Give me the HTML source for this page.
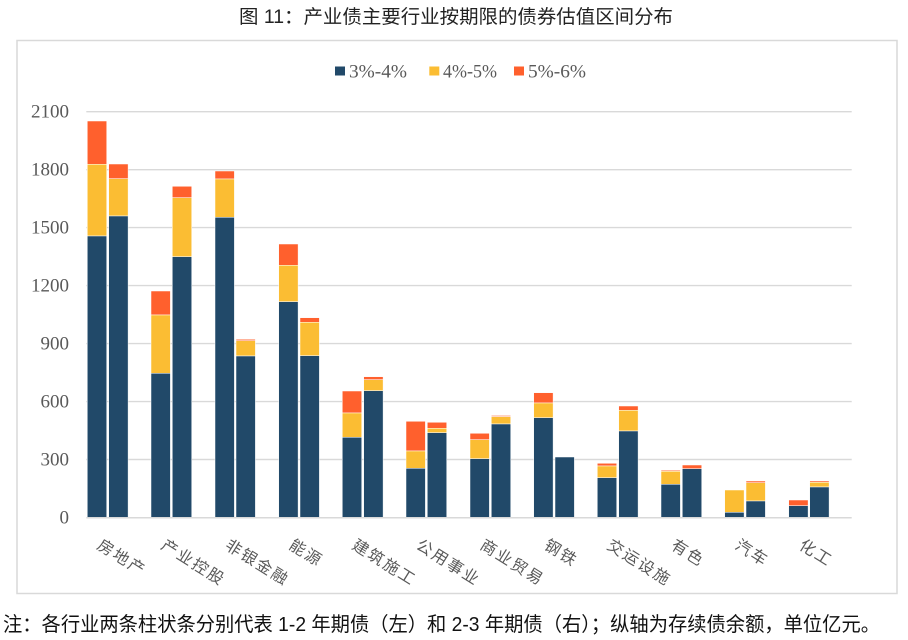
<!DOCTYPE html>
<html>
<head>
<meta charset="utf-8">
<style>
  html,body{margin:0;padding:0;background:#fff;}
  svg{display:block;}
  .cjk{font-family:"Liberation Sans","Noto Sans CJK SC",sans-serif;}
  .ser{font-family:"Liberation Serif","Noto Serif CJK SC",serif;}
</style>
</head>
<body>
<svg width="908" height="640" viewBox="0 0 908 640" xmlns="http://www.w3.org/2000/svg">
  <rect x="0" y="0" width="908" height="640" fill="#ffffff"/>
  <!-- Title -->
  <text class="cjk" x="239" y="23" font-size="19" fill="#222222" textLength="434" lengthAdjust="spacingAndGlyphs">图 11：产业债主要行业按期限的债券估值区间分布</text>

  <!-- Chart border -->
  <rect x="17" y="40.5" width="880" height="553" fill="#ffffff" stroke="#d9d9d9" stroke-width="1.5"/>

  <!-- Legend -->
  <rect x="335" y="66.5" width="10" height="9" fill="#214969"/>
  <text class="ser" x="349" y="77.5" font-size="19" fill="#595959" textLength="58" lengthAdjust="spacingAndGlyphs">3%-4%</text>
  <rect x="429.3" y="66.5" width="10" height="9" fill="#FBBD33"/>
  <text class="ser" x="443" y="77.5" font-size="19" fill="#595959" textLength="54" lengthAdjust="spacingAndGlyphs">4%-5%</text>
  <rect x="514" y="66.5" width="10" height="9" fill="#FF602D"/>
  <text class="ser" x="528" y="77.5" font-size="19" fill="#595959" textLength="58" lengthAdjust="spacingAndGlyphs">5%-6%</text>

  <!-- Gridlines -->
  <g stroke="#d9d9d9" stroke-width="1.4">
    <line x1="86.3" y1="111.7" x2="851.7" y2="111.7"/>
    <line x1="86.3" y1="169.7" x2="851.7" y2="169.7"/>
    <line x1="86.3" y1="227.6" x2="851.7" y2="227.6"/>
    <line x1="86.3" y1="285.6" x2="851.7" y2="285.6"/>
    <line x1="86.3" y1="343.6" x2="851.7" y2="343.6"/>
    <line x1="86.3" y1="401.6" x2="851.7" y2="401.6"/>
    <line x1="86.3" y1="459.5" x2="851.7" y2="459.5"/>
  </g>

  <!-- Y labels -->
  <g class="ser" font-size="19" fill="#595959" text-anchor="end">
    <text x="69" y="117.7">2100</text>
    <text x="69" y="175.7">1800</text>
    <text x="69" y="233.6">1500</text>
    <text x="69" y="291.6">1200</text>
    <text x="69" y="349.6">900</text>
    <text x="69" y="407.6">600</text>
    <text x="69" y="465.5">300</text>
    <text x="69" y="523.5">0</text>
  </g>

  <!-- Bars -->
  <g stroke="#ffffff" stroke-width="0.5">
    <!-- G1 房地产 -->
    <rect x="87.3" y="121" width="19.4" height="43.3" fill="#FF602D"/>
    <rect x="87.3" y="164.3" width="19.4" height="71.7" fill="#FBBD33"/>
    <rect x="87.3" y="236" width="19.4" height="281.5" fill="#214969"/>
    <rect x="108.7" y="164" width="19.4" height="14.7" fill="#FF602D"/>
    <rect x="108.7" y="178.7" width="19.4" height="37.3" fill="#FBBD33"/>
    <rect x="108.7" y="216" width="19.4" height="301.5" fill="#214969"/>
    <!-- G2 产业控股 -->
    <rect x="151" y="291" width="19.4" height="24" fill="#FF602D"/>
    <rect x="151" y="315" width="19.4" height="58.3" fill="#FBBD33"/>
    <rect x="151" y="373.3" width="19.4" height="144.2" fill="#214969"/>
    <rect x="172.3" y="186.3" width="19.4" height="11.4" fill="#FF602D"/>
    <rect x="172.3" y="197.7" width="19.4" height="59" fill="#FBBD33"/>
    <rect x="172.3" y="256.7" width="19.4" height="260.8" fill="#214969"/>
    <!-- G3 非银金融 -->
    <rect x="215" y="171" width="19.4" height="8" fill="#FF602D"/>
    <rect x="215" y="179" width="19.4" height="38.3" fill="#FBBD33"/>
    <rect x="215" y="217.3" width="19.4" height="300.2" fill="#214969"/>
    <rect x="236" y="339.3" width="19.4" height="1.4" fill="#FF602D"/>
    <rect x="236" y="340.7" width="19.4" height="15.3" fill="#FBBD33"/>
    <rect x="236" y="356" width="19.4" height="161.5" fill="#214969"/>
    <!-- G4 能源 -->
    <rect x="278.7" y="244" width="19.4" height="21.3" fill="#FF602D"/>
    <rect x="278.7" y="265.3" width="19.4" height="36.4" fill="#FBBD33"/>
    <rect x="278.7" y="301.7" width="19.4" height="215.8" fill="#214969"/>
    <rect x="300" y="317.7" width="19.4" height="4.6" fill="#FF602D"/>
    <rect x="300" y="322.3" width="19.4" height="33.4" fill="#FBBD33"/>
    <rect x="300" y="355.7" width="19.4" height="161.8" fill="#214969"/>
    <!-- G5 建筑施工 -->
    <rect x="342.3" y="391" width="19.4" height="22" fill="#FF602D"/>
    <rect x="342.3" y="413" width="19.4" height="24.3" fill="#FBBD33"/>
    <rect x="342.3" y="437.3" width="19.4" height="80.2" fill="#214969"/>
    <rect x="363.7" y="376.7" width="19.4" height="3" fill="#FF602D"/>
    <rect x="363.7" y="379.7" width="19.4" height="11" fill="#FBBD33"/>
    <rect x="363.7" y="390.7" width="19.4" height="126.8" fill="#214969"/>
    <!-- G6 公用事业 -->
    <rect x="406" y="421.3" width="19.4" height="29.7" fill="#FF602D"/>
    <rect x="406" y="451" width="19.4" height="17.3" fill="#FBBD33"/>
    <rect x="406" y="468.3" width="19.4" height="49.2" fill="#214969"/>
    <rect x="427.3" y="422.3" width="19.4" height="6" fill="#FF602D"/>
    <rect x="427.3" y="428.3" width="19.4" height="4.4" fill="#FBBD33"/>
    <rect x="427.3" y="432.7" width="19.4" height="84.8" fill="#214969"/>
    <!-- G7 商业贸易 -->
    <rect x="470" y="433.3" width="19.4" height="6.4" fill="#FF602D"/>
    <rect x="470" y="439.7" width="19.4" height="19" fill="#FBBD33"/>
    <rect x="470" y="458.7" width="19.4" height="58.8" fill="#214969"/>
    <rect x="491.3" y="415.3" width="19.4" height="1.4" fill="#FF9E80"/>
    <rect x="491.3" y="416.7" width="19.4" height="7.3" fill="#FBBD33"/>
    <rect x="491.3" y="424" width="19.4" height="93.5" fill="#214969"/>
    <!-- G8 钢铁 -->
    <rect x="533.7" y="392.7" width="19.4" height="10.3" fill="#FF602D"/>
    <rect x="533.7" y="403" width="19.4" height="14.7" fill="#FBBD33"/>
    <rect x="533.7" y="417.7" width="19.4" height="99.8" fill="#214969"/>
    <rect x="555" y="457" width="19.4" height="60.5" fill="#214969"/>
    <!-- G9 交运设施 -->
    <rect x="597.3" y="463.3" width="19.4" height="2.7" fill="#FF602D"/>
    <rect x="597.3" y="466" width="19.4" height="11.7" fill="#FBBD33"/>
    <rect x="597.3" y="477.7" width="19.4" height="39.8" fill="#214969"/>
    <rect x="618.7" y="406" width="19.4" height="4.3" fill="#FF602D"/>
    <rect x="618.7" y="410.3" width="19.4" height="20.7" fill="#FBBD33"/>
    <rect x="618.7" y="431" width="19.4" height="86.5" fill="#214969"/>
    <!-- G10 有色 -->
    <rect x="661" y="470" width="19.4" height="1.3" fill="#FF9E80"/>
    <rect x="661" y="471.3" width="19.4" height="13" fill="#FBBD33"/>
    <rect x="661" y="484.3" width="19.4" height="33.2" fill="#214969"/>
    <rect x="682.3" y="465" width="19.4" height="3.7" fill="#FF602D"/>
    <rect x="682.3" y="468.7" width="19.4" height="48.8" fill="#214969"/>
    <!-- G11 汽车 -->
    <rect x="724.7" y="490" width="19.4" height="22.3" fill="#FBBD33"/>
    <rect x="724.7" y="512.3" width="19.4" height="5.2" fill="#214969"/>
    <rect x="746" y="481" width="19.4" height="1.7" fill="#FF602D"/>
    <rect x="746" y="482.7" width="19.4" height="18.3" fill="#FBBD33"/>
    <rect x="746" y="501" width="19.4" height="16.5" fill="#214969"/>
    <!-- G12 化工 -->
    <rect x="788.7" y="500" width="19.4" height="5.7" fill="#FF602D"/>
    <rect x="788.7" y="505.7" width="19.4" height="11.8" fill="#214969"/>
    <rect x="809.7" y="481" width="19.4" height="1.3" fill="#FF602D"/>
    <rect x="809.7" y="482.3" width="19.4" height="4.7" fill="#FBBD33"/>
    <rect x="809.7" y="487" width="19.4" height="30.5" fill="#214969"/>
  </g>

  <!-- X axis line -->
  <line x1="86.3" y1="517.8" x2="851.7" y2="517.8" stroke="#d9d9d9" stroke-width="1.5"/>

  <!-- X labels (rotated) -->
  <g class="cjk" font-size="16" fill="#595959" letter-spacing="2">
    <text transform="translate(96,548) rotate(32)">房地产</text>
    <text transform="translate(160,548) rotate(32)">产业控股</text>
    <text transform="translate(224,548) rotate(32)">非银金融</text>
    <text transform="translate(288,548) rotate(32)">能源</text>
    <text transform="translate(351,548) rotate(32)">建筑施工</text>
    <text transform="translate(415,548) rotate(32)">公用事业</text>
    <text transform="translate(479,548) rotate(32)">商业贸易</text>
    <text transform="translate(543,548) rotate(32)">钢铁</text>
    <text transform="translate(606,548) rotate(32)">交运设施</text>
    <text transform="translate(670,548) rotate(32)">有色</text>
    <text transform="translate(734,548) rotate(32)">汽车</text>
    <text transform="translate(798,548) rotate(32)">化工</text>
  </g>

  <!-- Footnote -->
  <text class="cjk" x="3" y="631" font-size="20" fill="#111111" textLength="877" lengthAdjust="spacingAndGlyphs">注：各行业两条柱状条分别代表 1-2 年期债（左）和 2-3 年期债（右）；纵轴为存续债余额，单位亿元。</text>
</svg>
</body>
</html>
